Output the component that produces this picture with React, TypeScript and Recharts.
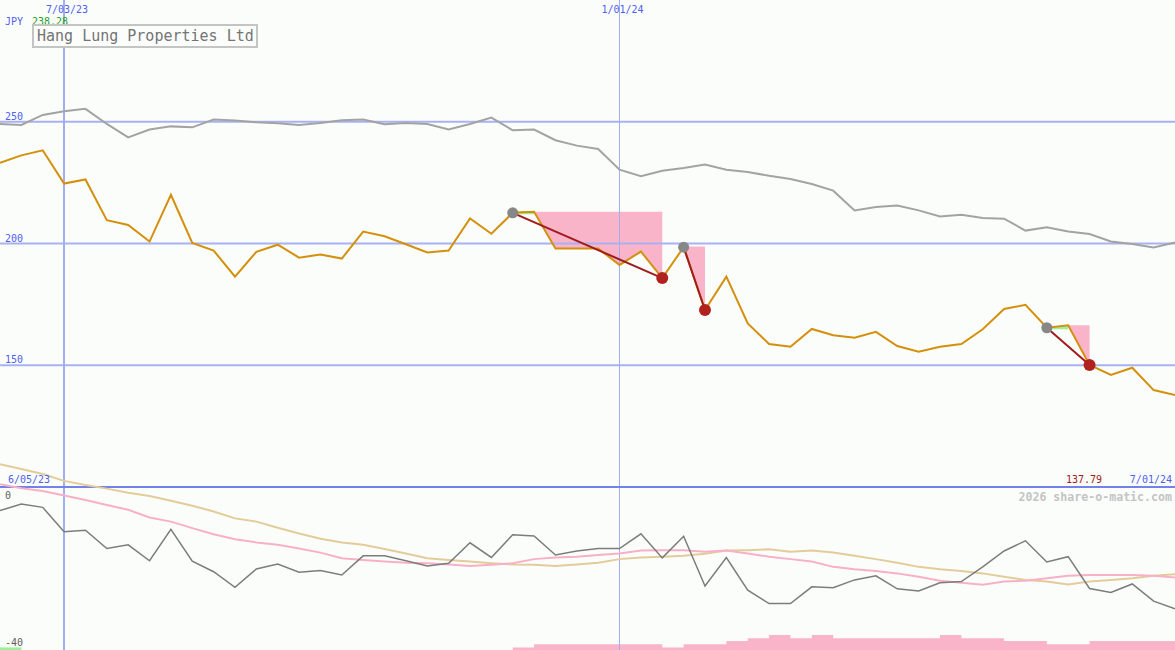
import React from 'react';
import { ComposedChart, Line, Area, XAxis, YAxis, ReferenceLine } from 'recharts';

// weekly closes, 12 Jun 2023 .. 1 Jul 2024 (JPY)
const price = [
  233.1, 236.2, 238.28, 224.6, 226.3, 209.6, 207.6, 200.8, 220.0, 200.2,
  197.1, 186.4, 196.6, 199.5, 194.2, 195.5, 193.8, 204.9, 203.0, 199.7,
  196.3, 197.1, 210.3, 204.0, 212.6, 213.0, 197.9, 197.9, 197.9, 191.2,
  196.7, 185.8, 198.5, 172.7, 186.4, 167.2, 158.7, 157.6, 164.9, 162.3,
  161.3, 163.7, 157.9, 155.6, 157.6, 158.7, 164.8, 173.1, 174.8, 165.4,
  166.4, 150.1, 146.0, 149.0, 139.8, 137.79,
];

// comparison index, rebased to the share price
const sector = [
  249.1, 248.7, 252.8, 254.3, 255.3, 249.1, 243.6, 246.8, 248.1, 247.7,
  250.9, 250.5, 249.8, 249.4, 248.7, 249.5, 250.6, 250.9, 249.0, 249.5,
  249.1, 246.8, 249.1, 251.7, 246.5, 246.8, 242.4, 240.2, 238.8, 230.3,
  227.6, 229.9, 231.0, 232.4, 230.3, 229.4, 227.8, 226.5, 224.4, 221.7,
  213.6, 215.0, 215.6, 213.6, 211.1, 211.8, 210.5, 210.2, 205.3, 206.7,
  204.9, 203.9, 200.8, 199.8, 198.4, 200.4,
];

// lower panel (%)
const relative = [
  -5.8, -4.2, -5.0, -11.0, -10.6, -15.1, -14.2, -18.1, -10.4, -18.2,
  -20.8, -24.6, -20.1, -18.9, -20.9, -20.5, -21.6, -16.9, -16.9, -18.1,
  -19.4, -18.7, -13.7, -17.3, -11.7, -12.0, -16.7, -15.7, -15.1, -15.1,
  -11.5, -17.4, -12.1, -24.3, -17.3, -25.3, -28.6, -28.6, -24.5, -24.7,
  -22.8, -21.8, -25.0, -25.5, -23.5, -23.2, -19.6, -15.7, -13.2, -18.4,
  -17.1, -24.9, -25.9, -23.8, -28.0, -29.9,
];
const maFast = [
  0.7, -0.3, -1.0, -2.1, -3.2, -4.4, -5.6, -7.5, -8.5, -10.1,
  -11.6, -12.8, -13.6, -14.2, -15.1, -16.1, -17.5, -17.9, -18.3, -18.6,
  -18.7, -19.0, -19.4, -19.1, -18.7, -17.7, -17.3, -17.1, -16.7, -16.3,
  -15.6, -15.5, -15.5, -15.9, -15.6, -16.3, -17.1, -17.7, -18.3, -19.6,
  -20.2, -20.6, -21.2, -22.0, -23.0, -23.5, -24.0, -23.2, -23.0, -22.4,
  -21.8, -21.6, -21.6, -21.6, -21.8, -22.2,
];
const maSlow = [
  5.6, 4.4, 3.2, 1.5, 0.5, -0.4, -1.4, -2.2, -3.4, -4.6,
  -6.0, -7.7, -8.5, -10.0, -11.4, -12.7, -13.6, -14.2, -15.2, -16.3,
  -17.5, -17.9, -18.3, -18.7, -19.0, -19.1, -19.4, -19.0, -18.6, -17.7,
  -17.3, -17.1, -16.9, -16.4, -15.6, -15.5, -15.3, -15.9, -15.6, -16.1,
  -16.9, -17.7, -18.6, -19.6, -20.2, -20.6, -21.2, -22.0, -22.8, -23.2,
  -23.9, -23.2, -22.8, -22.4, -21.8, -21.4,
];

// volume (m)
const volume: (number | null)[] = [
  ...Array(24).fill(null),
  0.4, 0.9, 0.9, 0.9, 0.9, 0.9, 0.9, 0.4, 0.9, 0.9,
  1.4, 1.8, 2.3, 1.8, 2.3, 1.8, 1.8, 1.8, 1.8, 1.8,
  2.3, 1.8, 1.8, 1.4, 1.4, 0.9, 0.9, 1.4, 1.4, 1.4,
  1.4, 1.4,
];
const upVolume = [0.4, 0.4];

const priceTicks = [250, 200, 150];
const dateLines = [
  { i: 3, label: '7/03/23' },
  { i: 29, label: '1/01/24' },
];
const drawdowns = [
  { peak: 24, trough: 31, fillFrom: 24, level: 213.0 },
  { peak: 32, trough: 33, fillFrom: 32, level: 198.8 },
  { peak: 49, trough: 51, fillFrom: 50, level: 166.4 },
];
const rises = [
  { from: 24, to: 25 },
  { from: 49, to: 50 },
];

const rows = price.map((p, i) => {
  const row: any = {
    i,
    price: p,
    sector: sector[i],
    rel: relative[i],
    maFast: maFast[i],
    maSlow: maSlow[i],
    vol: volume[i],
    volUp: i < upVolume.length ? upVolume[i] : null,
  };
  drawdowns.forEach((d, k) => {
    row['fill' + k] = i >= d.fillFrom && i <= d.trough ? [p, d.level] : null;
    row['dd' + k] = i === d.peak || i === d.trough ? p : null;
  });
  const r = rises.find((r) => i >= r.from && i <= r.to);
  row.rise = r ? price[r.from] : null;
  return row;
});

const W = 1175;
const H = 650;
const mono = '"DejaVu Sans Mono", "Liberation Mono", monospace';
const blue = '#4f5ff0';

const makeDot = (d: { peak: number; trough: number }) => (props: any) => {
  const { cx, cy, payload } = props;
  const k = `dot-${d.peak}-${payload?.i}`;
  if (cx == null || cy == null || payload == null) return <g key={k} />;
  if (payload.i === d.peak) return <circle key={k} cx={cx} cy={cy} r={5.5} fill="#878787" />;
  if (payload.i === d.trough) return <circle key={k} cx={cx} cy={cy} r={6} fill="#b0221e" />;
  return <g key={k} />;
};

const PriceLabel = (props: any) => {
  const { viewBox, value } = props;
  return (
    <text x={viewBox.x + 5} y={viewBox.y - 2} fill={blue} fontSize={10} fontFamily={mono}>
      {value}
    </text>
  );
};

const DateLabel = (props: any) => {
  const { viewBox, value } = props;
  return (
    <text x={viewBox.x + 3} y={13} fill={blue} fontSize={10} fontFamily={mono} textAnchor="middle">
      {value}
    </text>
  );
};

export default function App() {
  const last = price[price.length - 1];
  const high = Math.max(...price);
  return (
    <div style={{ position: 'absolute', left: 0, top: 0, width: W, height: H, background: '#fbfdfb', overflow: 'hidden' }}>
      <ComposedChart width={W} height={H} data={rows} margin={{ top: 0, right: 0, bottom: 0, left: 0 }}>
        <XAxis dataKey="i" type="number" domain={[0, 55]} hide allowDataOverflow />
        <YAxis yAxisId="p" type="number" domain={[33.06, 300]} hide allowDataOverflow />
        <YAxis yAxisId="o" type="number" domain={[-40, 119.5]} hide allowDataOverflow />
        <YAxis yAxisId="v" type="number" domain={[0, 100]} hide allowDataOverflow />

        {priceTicks.map((t) => (
          <ReferenceLine key={t} yAxisId="p" y={t} stroke="#a8b2f2" strokeWidth={2} label={<PriceLabel value={t} />} />
        ))}
        {dateLines.map((d, k) => (
          <ReferenceLine
            key={d.label}
            yAxisId="p"
            x={d.i}
            stroke="#a2aef2"
            strokeWidth={k === 0 ? 2 : 1}
            shapeRendering="crispEdges"
            label={<DateLabel value={d.label} />}
          />
        ))}
        <ReferenceLine yAxisId="o" y={0} stroke="#7282ea" strokeWidth={2} />

        {drawdowns.map((d, k) => (
          <Area
            key={'fill' + k}
            yAxisId="p"
            type="linear"
            dataKey={'fill' + k}
            fill="#f9b4c9"
            fillOpacity={1}
            stroke="none"
            isAnimationActive={false}
            dot={false}
            activeDot={false}
          />
        ))}
        <Area yAxisId="v" type="stepAfter" dataKey="vol" fill="#f9b4c9" fillOpacity={1} stroke="none" isAnimationActive={false} dot={false} activeDot={false} />
        <Area yAxisId="v" type="stepAfter" dataKey="volUp" fill="#9cf09c" fillOpacity={1} stroke="none" isAnimationActive={false} dot={false} activeDot={false} />

        <Line yAxisId="o" type="linear" dataKey="maSlow" stroke="#e3cc9a" strokeWidth={2} dot={false} activeDot={false} isAnimationActive={false} />
        <Line yAxisId="o" type="linear" dataKey="maFast" stroke="#f8b0c6" strokeWidth={2} dot={false} activeDot={false} isAnimationActive={false} />
        <Line yAxisId="o" type="linear" dataKey="rel" stroke="#7c7c7c" strokeWidth={1.5} dot={false} activeDot={false} isAnimationActive={false} />

        <Line yAxisId="p" type="linear" dataKey="sector" stroke="#a3a3a3" strokeWidth={2} dot={false} activeDot={false} isAnimationActive={false} />
        <Line yAxisId="p" type="linear" dataKey="rise" stroke="#9cf09c" strokeWidth={3} dot={false} activeDot={false} isAnimationActive={false} />
        <Line yAxisId="p" type="linear" dataKey="price" stroke="#d4900c" strokeWidth={2} dot={false} activeDot={false} isAnimationActive={false} />
        {drawdowns.map((d, k) => (
          <Line
            key={'dd' + k}
            yAxisId="p"
            type="linear"
            dataKey={'dd' + k}
            stroke="#a01c1c"
            strokeWidth={2}
            connectNulls
            dot={makeDot(d)}
            activeDot={false}
            isAnimationActive={false}
          />
        ))}
      </ComposedChart>

      <svg width={W} height={H} style={{ position: 'absolute', left: 0, top: 0, pointerEvents: 'none' }}>
        <text x={5} y={25} fill={blue} fontSize={10} fontFamily={mono}>JPY</text>
        <text x={32} y={25} fill="#22a022" fontSize={10} fontFamily={mono}>{high.toFixed(2)}</text>
        <rect x={33} y={25} width={224} height={22} fill="#fbfdfb" stroke="#c4c4c4" strokeWidth={2} />
        <text x={37} y={41} fill="#747474" fontSize={15} fontFamily={mono}>Hang Lung Properties Ltd</text>

        <text x={8} y={483} fill={blue} fontSize={10} fontFamily={mono}>6/05/23</text>
        <text x={1102} y={483} fill="#a01c1c" fontSize={10} fontFamily={mono} textAnchor="end">{last.toFixed(2)}</text>
        <text x={1172} y={483} fill={blue} fontSize={10} fontFamily={mono} textAnchor="end">7/01/24</text>
        <text x={1172} y={501} fill="#c4c4c4" fontSize={11.6} fontWeight="bold" fontFamily={mono} textAnchor="end">2026 share-o-matic.com</text>

        <text x={5} y={499} fill="#606060" fontSize={10} fontFamily={mono}>0</text>
        <text x={5} y={646} fill="#606060" fontSize={10} fontFamily={mono}>-40</text>
      </svg>
    </div>
  );
}
